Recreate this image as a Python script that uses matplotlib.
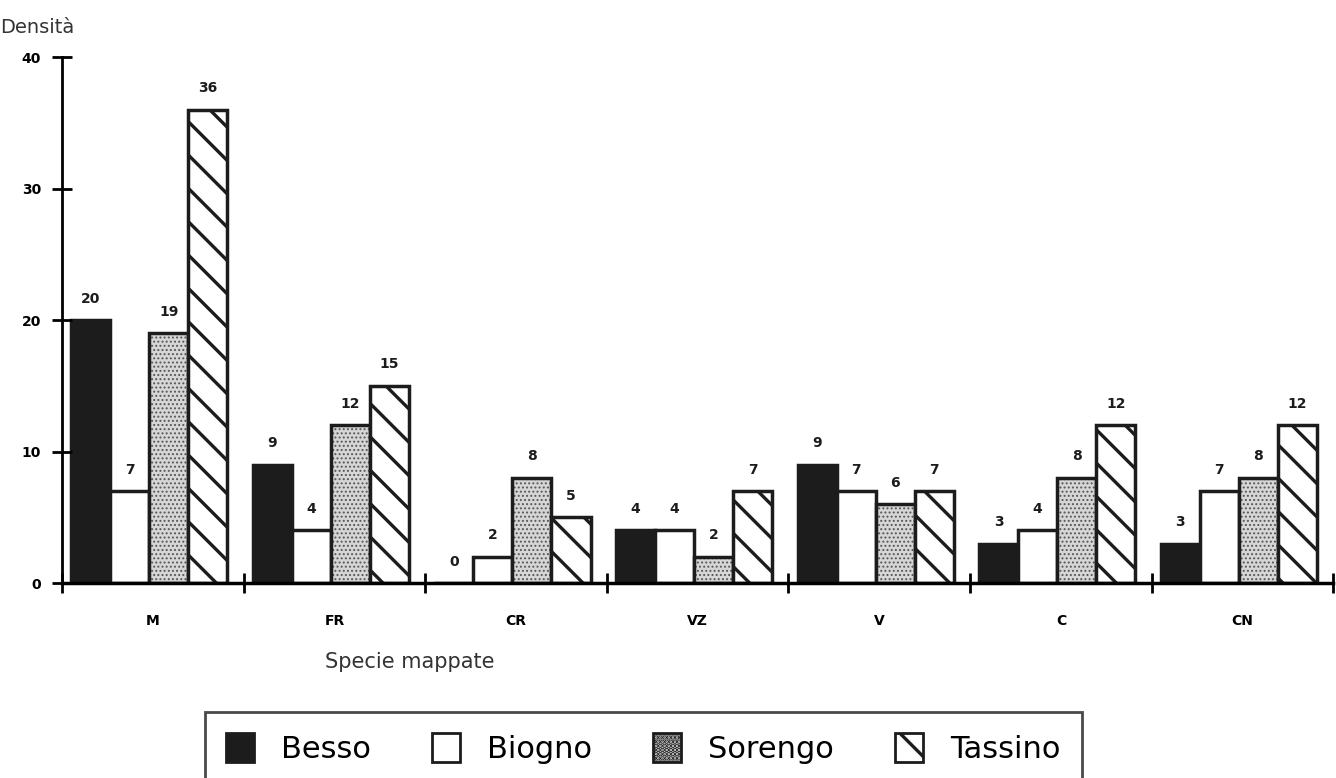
import numpy as np
import matplotlib.pyplot as plt
from matplotlib.patches import Patch

# data
categories = ["M", "FR", "CR", "VZ", "V", "C", "CN"]
besso = [20, 9, 0, 4, 9, 3, 3]
biogno = [7, 4, 2, 4, 7, 4, 7]
sorengo = [19, 12, 8, 2, 6, 8, 8]
tassino = [36, 15, 5, 7, 7, 12, 12]
series_names = ["Besso", "Biogno", "Sorengo", "Tassino"]
yticks = [0, 10, 20, 30, 40]

plt.rcParams['hatch.linewidth'] = 2.4
plt.rcParams['font.family'] = ['DejaVu Sans']

ink = "#1c1c1c"
fig = plt.figure(figsize=(13.36, 7.78), dpi=100)
ax = fig.add_axes([0.0464, 0.2506, 0.9516, 0.6761])

x = np.arange(len(categories))
w = 0.215
all_vals = [besso, biogno, sorengo, tassino]
for i, vals in enumerate(all_vals):
    xs = x + (i - 1.5) * w - 0.02
    if i == 0:
        ax.bar(xs, vals, w, color=ink, edgecolor=ink, linewidth=2.5)
    elif i == 1:
        ax.bar(xs, vals, w, color="white", edgecolor=ink, linewidth=2.5)
    elif i == 2:
        # stipple fill (thin hatch), then outline on top
        with plt.rc_context({'hatch.linewidth': 0.9}):
            ax.bar(xs, vals, w, color="#d6d6d6", edgecolor="#555555", hatch="....", linewidth=0)
        ax.bar(xs, vals, w, fill=False, edgecolor=ink, linewidth=2.5)
    else:
        ax.bar(xs, vals, w, color="white", edgecolor=ink, hatch="\\", linewidth=2.5)
    for xx, v in zip(xs, vals):
        ax.text(xx, v + 1.1, str(v), ha="center", va="bottom",
                fontsize=10, fontweight="bold", color=ink)

ax.set_xlim(-0.5, len(categories) - 0.5)
ax.set_ylim(0, 40)
ax.set_yticks(yticks)
ax.set_yticklabels([str(t) for t in yticks], fontsize=10, fontweight="bold")
ax.set_xticks(x)
ax.set_xticklabels(categories, fontsize=10, fontweight="bold")
ax.tick_params(axis="x", which="major", length=0, pad=22)
ax.set_xticks(np.arange(len(categories) + 1) - 0.5, minor=True)
ax.tick_params(axis="x", which="minor", direction="inout", length=14, width=2)
ax.tick_params(axis="y", direction="inout", length=14, width=2, pad=8)
ax.spines["top"].set_visible(False)
ax.spines["right"].set_visible(False)
ax.spines["left"].set_linewidth(2)
ax.spines["bottom"].set_linewidth(2.5)

fig.text(0.0, 0.965, "Densità", fontsize=14, color="#333333", ha="left", va="center")
fig.text(0.307, 0.149, "Specie mappate", fontsize=15, color="#333333", ha="center", va="center")

with plt.rc_context({'hatch.linewidth': 0.9}):
    stipple = Patch(facecolor="#d6d6d6", edgecolor=ink, hatch="....", linewidth=2)
handles = [
    Patch(facecolor=ink, edgecolor=ink, linewidth=2),
    Patch(facecolor="white", edgecolor=ink, linewidth=2),
    stipple,
    Patch(facecolor="white", edgecolor=ink, hatch="\\", linewidth=2),
]
leg = fig.legend(handles, series_names, loc="upper center", bbox_to_anchor=(0.4815, 0.105), ncol=4,
                 prop={"family": ["DejaVu Sans"], "size": 22},
                 frameon=True, fancybox=False, edgecolor=ink,
                 handlelength=0.9, handleheight=1.1, columnspacing=2.0,
                 borderpad=0.7, handletextpad=0.9)
leg.get_frame().set_linewidth(2)

plt.savefig("out.png", dpi=100)
